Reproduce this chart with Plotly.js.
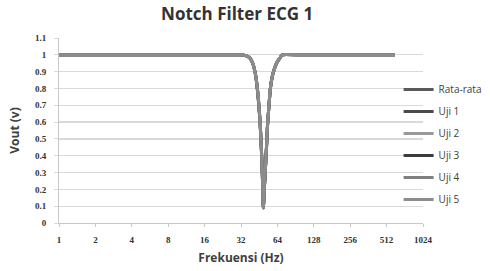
<!DOCTYPE html>
<html>
<head>
<meta charset="utf-8">
<script src="https://cdn.plot.ly/plotly-3.0.1.min.js"></script>
<style>html,body{margin:0;padding:0;background:#fff;}#chart{width:490px;height:271px;}</style>
</head>
<body>
<div id="chart"></div>
<script>
const freq = [1, 2, 4, 8, 16, 32, 35, 38, 40, 42, 44, 46, 47, 48, 49, 50, 51, 52, 53, 54, 56, 58, 60, 63, 67, 70, 100, 200, 400, 600];
const rataRata = [1, 1, 1, 1, 1, 1, 0.995, 0.98, 0.95, 0.89, 0.78, 0.6, 0.47, 0.3, 0.09, 0.22, 0.33, 0.45, 0.58, 0.66, 0.8, 0.87, 0.91, 0.95, 0.98, 1, 1, 1, 1, 1];
const uji1 = [1, 1, 1, 1, 1, 1, 0.995, 0.98, 0.95, 0.89, 0.78, 0.6, 0.46, 0.3, 0.09, 0.22, 0.33, 0.45, 0.58, 0.66, 0.8, 0.87, 0.91, 0.95, 0.98, 1, 1, 1, 1, 1];
const uji2 = [1, 1, 1, 1, 1, 1, 0.995, 0.98, 0.95, 0.89, 0.78, 0.61, 0.47, 0.3, 0.09, 0.22, 0.34, 0.45, 0.58, 0.66, 0.8, 0.87, 0.91, 0.95, 0.98, 1, 1, 1, 1, 1];
const uji3 = [1, 1, 1, 1, 1, 1, 0.995, 0.98, 0.95, 0.89, 0.77, 0.6, 0.47, 0.3, 0.09, 0.21, 0.33, 0.45, 0.58, 0.66, 0.8, 0.87, 0.91, 0.95, 0.98, 1, 1, 1, 1, 1];
const uji4 = [1, 1, 1, 1, 1, 1, 0.995, 0.98, 0.95, 0.89, 0.78, 0.6, 0.47, 0.31, 0.09, 0.22, 0.33, 0.45, 0.57, 0.66, 0.8, 0.87, 0.91, 0.95, 0.98, 1, 1, 1, 1, 1];
const uji5 = [1, 1, 1, 1, 1, 1, 0.995, 0.98, 0.95, 0.89, 0.78, 0.6, 0.47, 0.3, 0.09, 0.22, 0.33, 0.46, 0.58, 0.66, 0.8, 0.87, 0.91, 0.95, 0.98, 1, 1, 1, 1, 1];
const seriesNames = ['Rata-rata', 'Uji 1', 'Uji 2', 'Uji 3', 'Uji 4', 'Uji 5'];
const seriesValues = [rataRata, uji1, uji2, uji3, uji4, uji5];
const seriesColors = ['#5a5a5a', '#4a4a4a', '#9a9a9a', '#3c3c3c', '#808080', '#8c8c8c'];
const xTickVals = [1, 2, 4, 8, 16, 32, 64, 128, 256, 512, 1024];
const xTickText = ['1', '2', '4', '8', '16', '32', '64', '128', '256', '512', '1024'];

const traces = seriesNames.map((n, i) => ({
  x: freq, y: seriesValues[i], name: n, type: 'scatter', mode: 'lines',
  legendgroup: 'g' + i,
  line: {color: seriesColors[i], width: 3, shape: 'spline', smoothing: 0.5}
}));

const tickFont = {family: 'Liberation Serif, serif', size: 9, color: '#333', weight: 'bold'};
const layout = {
  width: 490, height: 271,
  margin: {l: 59, r: 67, t: 38, b: 48, autoexpand: false},
  paper_bgcolor: '#fff', plot_bgcolor: '#fff',
  title: {text: '<b>Notch Filter ECG 1</b>', x: 0.484, xanchor: 'center', y: 0.95, yanchor: 'middle',
    font: {family: 'Open Sans, sans-serif', size: 17, color: '#333'}},
  xaxis: {
    type: 'log', range: [0, Math.log10(1024)],
    tickvals: xTickVals, ticktext: xTickText,
    showgrid: false, showline: true, linecolor: '#c8c8c8', linewidth: 1,
    ticks: 'outside', ticklen: 3, tickcolor: '#c8c8c8', ticklabelstandoff: 5,
    tickfont: tickFont, zeroline: false, automargin: false,
    title: {text: '<b>Frekuensi (Hz)</b>', font: {family: 'Open Sans, sans-serif', size: 12, color: '#404040'}, standoff: 9}
  },
  yaxis: {
    range: [0, 1.1], dtick: 0.1, tick0: 0,
    showgrid: true, gridcolor: '#d9d9d9', gridwidth: 1.3,
    showline: true, linecolor: '#c8c8c8', linewidth: 1,
    ticks: 'outside', ticklen: 4, tickcolor: '#d9d9d9', ticklabelstandoff: 6,
    tickfont: tickFont, zeroline: false, automargin: false,
    title: {text: '<b>Vout (v)</b>', font: {family: 'Open Sans, sans-serif', size: 12, color: '#404040'}, standoff: 12}
  },
  showlegend: true,
  legend: {x: 0.933, xanchor: 'left', y: 0.8, yanchor: 'top', bgcolor: 'rgba(0,0,0,0)',
    tracegroupgap: 3, font: {family: 'Open Sans, sans-serif', size: 10, color: '#404040'}}
};
Plotly.newPlot('chart', traces, layout, {staticPlot: true, displayModeBar: false});
</script>
</body>
</html>
